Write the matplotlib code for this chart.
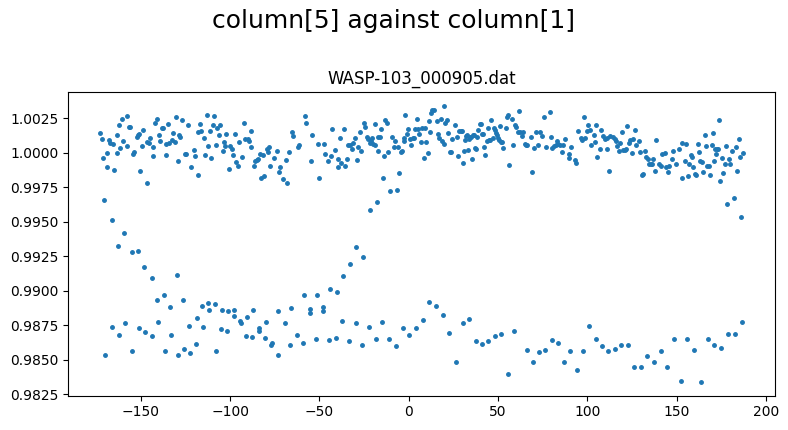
import matplotlib
matplotlib.use("Agg")
import matplotlib.pyplot as plt
import numpy as np

TITLE = "column[5] against column[1]"
SUBTITLE = "WASP-103_000905.dat"

# column[1] (time) and column[5] (relative flux) in pieces
# upper band, -173 .. -80
time_1 = [-172.6, -171.5, -170.9, -170.4, -169.2, -168.7, -167.6, -167.2, -166.4, -165.3,
          -164.8, -163.6, -163.1, -162.0, -161.4, -160.3, -159.7, -158.0, -157.5, -156.4,
          -155.8, -154.1, -153.6, -152.4, -151.3, -150.8, -150.2, -149.1, -148.5, -146.8,
          -146.3, -145.2, -144.6, -142.9, -142.9, -141.8, -141.2, -139.6, -139.0, -137.9,
          -137.3, -135.7, -135.7, -134.5, -134.0, -132.3, -131.7, -130.6, -130.1, -128.9,
          -128.4, -127.8, -126.7, -125.0, -124.5, -123.3, -121.7, -120.0, -119.4, -117.7,
          -117.7, -116.6, -116.1, -114.4, -113.8, -112.7, -112.1, -111.0, -110.5, -109.3,
          -108.8, -107.7, -107.1, -106.0, -105.4, -103.8, -103.2, -102.6, -102.1, -100.4,
          -99.8, -98.7, -98.2, -97.0, -96.5, -95.4, -94.8, -93.1, -92.0, -91.4,
          -89.8, -89.2, -88.1, -88.1, -86.4, -85.8, -84.7, -84.2, -83.0, -82.5,
          -81.4, -80.8]
flux_1 = [1.00140, 1.00097, 0.99959, 0.99656, 0.99996, 0.99894, 1.00092, 1.00068, 0.99511, 1.00061,
          0.99873, 1.00126, 0.99996, 1.00198, 1.00032, 1.00248, 1.00082, 1.00263, 1.00046, 1.00183,
          1.00183, 0.99988, 1.00003, 1.00111, 1.00126, 1.00133, 0.99866, 1.00046, 1.00162, 0.99779,
          1.00075, 1.00068, 1.00104, 1.00039, 0.99974, 1.00219, 1.00241, 1.00126, 1.00082, 1.00176,
          1.00176, 1.00061, 0.99981, 1.00205, 1.00068, 1.00089, 1.00140, 1.00075, 1.00256, 0.99938,
          1.00126, 1.00111, 1.00234, 0.99988, 0.99988, 1.00198, 0.99894, 1.00017, 0.99974, 1.00147,
          0.99837, 1.00205, 1.00154, 1.00104, 0.99981, 1.00277, 1.00046, 1.00154, 0.99959, 1.00198,
          1.00263, 1.00053, 1.00176, 1.00126, 1.00198, 1.00010, 1.00075, 1.00046, 1.00133, 0.99880,
          1.00046, 1.00024, 0.99981, 1.00133, 0.99931, 0.99902, 1.00075, 0.99967, 1.00212, 1.00097,
          1.00097, 1.00082, 1.00154, 1.00039, 0.99902, 0.99938, 0.99945, 0.99952, 0.99988, 0.99815,
          0.99981, 0.99829]

# upper band, -80 .. 15
time_2 = [-79.1, -78.6, -78.0, -77.5, -75.2, -73.5, -72.4, -71.9, -70.2, -68.5,
          -67.9, -66.8, -65.1, -64.6, -61.8, -61.2, -57.9, -57.3, -54.5, -53.9,
          -50.6, -50.0, -47.2, -46.7, -45.0, -43.3, -42.8, -41.1, -39.4, -39.4,
          -38.3, -37.7, -36.0, -35.5, -34.4, -33.8, -32.7, -31.6, -31.0, -29.9,
          -28.8, -28.2, -27.1, -26.5, -24.8, -24.3, -23.2, -22.6, -21.5, -21.5,
          -20.9, -20.4, -19.8, -18.7, -18.7, -17.6, -17.0, -17.0, -15.9, -15.3,
          -14.2, -13.6, -13.1, -12.0, -11.4, -10.3, -9.2, -8.1, -7.5, -6.4,
          -5.8, -5.3, -4.1, -3.6, -2.5, -2.5, -1.9, -0.8, -0.2, 0.9,
          1.5, 2.6, 3.2, 3.7, 4.8, 5.4, 6.0, 7.1, 7.6, 8.7,
          9.3, 9.9, 11.0, 11.5, 12.1, 12.7, 13.2, 14.3]
flux_2 = [1.00024, 1.00003, 1.00039, 0.99902, 0.99959, 1.00010, 0.99858, 0.99894, 0.99808, 0.99945,
          0.99779, 1.00003, 1.00147, 1.00118, 1.00039, 1.00053, 1.00263, 1.00212, 0.99938, 1.00126,
          1.00061, 0.99815, 1.00061, 0.99988, 0.99938, 0.99974, 1.00169, 1.00017, 0.99952, 0.99894,
          1.00104, 0.99923, 1.00169, 0.99902, 0.99952, 1.00053, 1.00053, 1.00024, 1.00068, 1.00104,
          0.99945, 1.00039, 1.00147, 1.00010, 1.00219, 1.00183, 1.00111, 1.00097, 1.00068, 0.99584,
          1.00082, 1.00104, 1.00061, 1.00205, 1.00053, 0.99642, 1.00010, 1.00111, 1.00111, 1.00169,
          0.99815, 0.99974, 1.00234, 1.00219, 1.00003, 0.99721, 1.00111, 1.00039, 1.00082, 0.99728,
          1.00039, 0.99851, 1.00003, 1.00010, 1.00082, 1.00104, 1.00277, 1.00133, 1.00169, 1.00097,
          1.00053, 1.00104, 1.00104, 1.00169, 1.00248, 1.00169, 1.00133, 1.00075, 1.00176, 0.99959,
          1.00176, 1.00075, 0.99996, 1.00227, 1.00147, 1.00285, 1.00313, 1.00313]

# upper band, 15 .. 110
time_3 = [16.0, 16.6, 17.1, 18.3, 18.8, 19.9, 19.9, 20.5, 21.6, 22.2,
          23.3, 23.9, 24.4, 26.1, 27.2, 27.8, 28.3, 29.5, 30.0, 30.6,
          31.1, 31.7, 32.3, 32.8, 33.4, 33.9, 34.5, 35.1, 35.6, 36.2,
          36.7, 37.3, 37.9, 38.4, 39.0, 40.1, 40.7, 41.2, 41.8, 42.3,
          42.9, 44.0, 44.6, 45.1, 45.7, 46.3, 47.4, 47.9, 48.5, 49.1,
          49.6, 50.2, 50.7, 51.3, 51.8, 52.4, 53.0, 54.6, 55.2, 55.8,
          56.3, 58.0, 58.6, 59.7, 60.2, 61.4, 61.9, 62.5, 63.6, 64.2,
          65.3, 65.8, 66.4, 68.6, 69.2, 70.3, 71.4, 72.6, 73.7, 74.8,
          75.9, 77.0, 79.3, 79.8, 80.4, 81.5, 82.6, 83.2, 83.7, 84.9,
          86.0, 86.5, 87.7, 89.9, 89.9, 91.0, 93.3, 93.8, 94.9, 96.6,
          97.2, 98.3, 98.9, 100.0, 100.5, 101.7, 102.2, 103.9, 104.5, 105.0,
          105.6, 107.3, 107.8, 108.9]
flux_3 = [1.00227, 1.00133, 1.00104, 1.00241, 1.00082, 1.00342, 1.00061, 1.00219, 1.00234, 1.00140,
          1.00003, 1.00003, 1.00097, 1.00198, 1.00111, 0.99974, 1.00154, 1.00154, 1.00154, 0.99923,
          1.00010, 1.00089, 1.00118, 1.00126, 1.00017, 1.00097, 1.00111, 1.00111, 0.99952, 1.00126,
          1.00126, 1.00032, 1.00024, 1.00111, 1.00162, 1.00205, 1.00205, 1.00133, 1.00133, 1.00039,
          0.99981, 1.00082, 1.00176, 1.00089, 1.00089, 1.00234, 1.00104, 1.00176, 1.00162, 1.00140,
          1.00126, 1.00104, 1.00089, 1.00191, 1.00075, 1.00075, 1.00032, 1.00176, 1.00256, 1.00277,
          0.99909, 1.00241, 1.00053, 1.00198, 1.00183, 1.00147, 1.00306, 1.00147, 1.00118, 1.00147,
          1.00061, 1.00053, 1.00053, 1.00111, 0.99858, 1.00032, 1.00147, 1.00053, 1.00147, 1.00118,
          1.00256, 1.00039, 1.00292, 1.00111, 1.00032, 1.00046, 1.00053, 1.00082, 1.00061, 1.00053,
          1.00003, 1.00053, 1.00097, 0.99959, 0.99988, 1.00039, 0.99945, 0.99923, 1.00154, 1.00104,
          1.00089, 1.00256, 1.00104, 1.00154, 1.00198, 1.00162, 1.00053, 1.00126, 1.00075, 1.00198,
          0.99967, 1.00024, 1.00162, 1.00118]

# upper band, 110 .. 188
time_4 = [110.1, 111.2, 111.2, 112.3, 112.9, 114.5, 115.7, 116.2, 116.8, 117.9,
          118.5, 119.6, 120.1, 121.3, 121.8, 122.4, 123.5, 124.1, 125.2, 125.7,
          126.9, 127.4, 129.1, 129.6, 130.8, 131.3, 132.4, 133.0, 134.1, 134.7,
          135.8, 136.4, 136.9, 138.0, 138.6, 140.3, 141.4, 142.0, 143.6, 144.2,
          145.3, 145.9, 147.6, 148.1, 149.8, 151.5, 153.2, 153.2, 154.8, 155.4,
          156.5, 157.1, 158.2, 158.8, 159.3, 160.4, 161.0, 162.1, 162.7, 163.2,
          164.3, 164.9, 166.0, 166.6, 167.1, 168.3, 168.8, 169.9, 170.5, 171.1,
          171.6, 172.2, 172.7, 173.3, 173.9, 174.4, 175.5, 176.1, 177.2, 177.8,
          178.3, 179.5, 180.0, 181.1, 182.3, 183.4, 183.9, 185.1, 185.6, 186.2,
          187.3]
flux_4 = [1.00097, 1.00024, 1.00104, 0.99866, 1.00118, 1.00111, 1.00097, 1.00082, 1.00046, 1.00010,
          1.00068, 1.00147, 1.00017, 1.00017, 1.00024, 1.00191, 1.00068, 1.00089, 0.99996, 1.00097,
          1.00162, 1.00053, 1.00082, 1.00003, 0.99837, 0.99844, 1.00010, 0.99967, 0.99952, 0.99916,
          0.99916, 0.99916, 0.99952, 0.99866, 1.00089, 0.99916, 0.99902, 0.99988, 0.99996, 0.99894,
          0.99858, 0.99902, 0.99952, 1.00010, 0.99916, 1.00024, 1.00068, 0.99815, 0.99938, 1.00061,
          0.99829, 0.99916, 0.99981, 0.99967, 0.99894, 0.99844, 0.99837, 1.00061, 1.00003, 0.99938,
          0.99931, 0.99858, 1.00126, 1.00046, 0.99902, 0.99902, 0.99837, 1.00053, 1.00140, 0.99938,
          1.00024, 0.99988, 1.00024, 1.00024, 1.00234, 0.99793, 0.99959, 0.99851, 0.99916, 1.00046,
          0.99627, 0.99952, 0.99916, 1.00010, 0.99670, 1.00039, 0.99866, 1.00097, 0.99967, 0.99533,
          0.99996]

# dip and lower band, -170 .. -83
time_5 = [-159.2, -162.5, -155.2, -151.3, -148.0, -144.0, -129.5, -140.7, -136.8, -133.4,
          -126.1, -165.9, -162.0, -158.6, -169.8, -154.7, -150.8, -147.4, -143.5, -140.1,
          -136.2, -132.9, -128.9, -125.6, -122.2, -122.8, -118.9, -118.3, -115.5, -114.9,
          -112.1, -111.6, -108.2, -107.7, -104.9, -104.3, -101.5, -101.0, -97.6, -97.6,
          -94.2, -93.7, -90.9, -90.3, -87.5, -87.0, -83.6, -83.6]
flux_5 = [0.99417, 0.99323, 0.99280, 0.99287, 0.99172, 0.99092, 0.99114, 0.98933, 0.98969, 0.98883,
          0.98933, 0.98738, 0.98681, 0.98767, 0.98536, 0.98565, 0.98731, 0.98702, 0.98673, 0.98774,
          0.98565, 0.98681, 0.98536, 0.98579, 0.98550, 0.98746, 0.98615, 0.98803, 0.98890, 0.98738,
          0.98912, 0.98861, 0.98904, 0.98565, 0.98724, 0.98861, 0.98709, 0.98854, 0.98861, 0.98818,
          0.98782, 0.98767, 0.98673, 0.98811, 0.98666, 0.98861, 0.98731, 0.98709]

# dip and lower band, -80 .. 12
time_6 = [-29.3, -25.4, -32.7, -36.6, -43.9, -40.0, -58.4, -51.1, -65.7, -73.0,
          -55.1, -55.1, -47.8, -47.8, -79.7, -69.1, -37.2, -29.3, -22.0, -14.8,
          -3.0, 4.3, 8.2, 11.5, -80.3, -62.3, -76.3, -76.9, -73.0, -66.3,
          -59.0, -51.7, -44.4, -40.5, -33.2, -26.0, -18.1, -10.9, -6.9, 0.4]
flux_6 = [0.99316, 0.99244, 0.99193, 0.99107, 0.99013, 0.98991, 0.98969, 0.98969, 0.98876, 0.98854,
          0.98868, 0.98839, 0.98883, 0.98854, 0.98774, 0.98767, 0.98782, 0.98767, 0.98738, 0.98774,
          0.98731, 0.98731, 0.98789, 0.98919, 0.98659, 0.98681, 0.98623, 0.98608, 0.98536, 0.98608,
          0.98623, 0.98652, 0.98644, 0.98659, 0.98637, 0.98608, 0.98652, 0.98652, 0.98601, 0.98681]

# lower band, 15 .. 109
time_7 = [15.5, 19.4, 22.7, 26.7, 30.6, 33.9, 37.9, 41.2, 44.6, 48.5,
          51.8, 55.8, 59.1, 66.4, 69.8, 73.1, 76.5, 80.4, 83.7, 87.1,
          90.5, 94.4, 97.7, 101.1, 105.0, 108.4]
flux_7 = [0.98890, 0.98825, 0.98695, 0.98485, 0.98767, 0.98796, 0.98637, 0.98615, 0.98637, 0.98673,
          0.98688, 0.98399, 0.98709, 0.98572, 0.98485, 0.98558, 0.98572, 0.98644, 0.98623, 0.98485,
          0.98565, 0.98428, 0.98565, 0.98746, 0.98652, 0.98601]

# lower band, 111 .. 187
time_8 = [111.7, 115.7, 119.0, 122.9, 126.3, 130.2, 133.6, 137.5, 141.4, 144.8,
          148.7, 152.6, 156.0, 159.9, 163.8, 167.7, 171.1, 175.0, 178.9, 182.8,
          186.7]
flux_8 = [0.98565, 0.98579, 0.98608, 0.98608, 0.98449, 0.98449, 0.98529, 0.98485, 0.98565, 0.98449,
          0.98652, 0.98348, 0.98652, 0.98572, 0.98341, 0.98652, 0.98608, 0.98587, 0.98688, 0.98688,
          0.98774]

time = np.concatenate([time_1, time_2, time_3, time_4, time_5, time_6, time_7, time_8])
flux = np.concatenate([flux_1, flux_2, flux_3, flux_4, flux_5, flux_6, flux_7, flux_8])

fig, ax = plt.subplots(figsize=(7.88, 4.3), dpi=100)
fig.subplots_adjust(left=0.0867, right=0.9839, bottom=0.0798, top=0.7867)
ax.plot(time, flux, ".", color="C0", markersize=5)
ax.set_title(SUBTITLE)
fig.suptitle(TITLE, fontsize=18)

plt.savefig("out.png", dpi=100)
plt.close()
